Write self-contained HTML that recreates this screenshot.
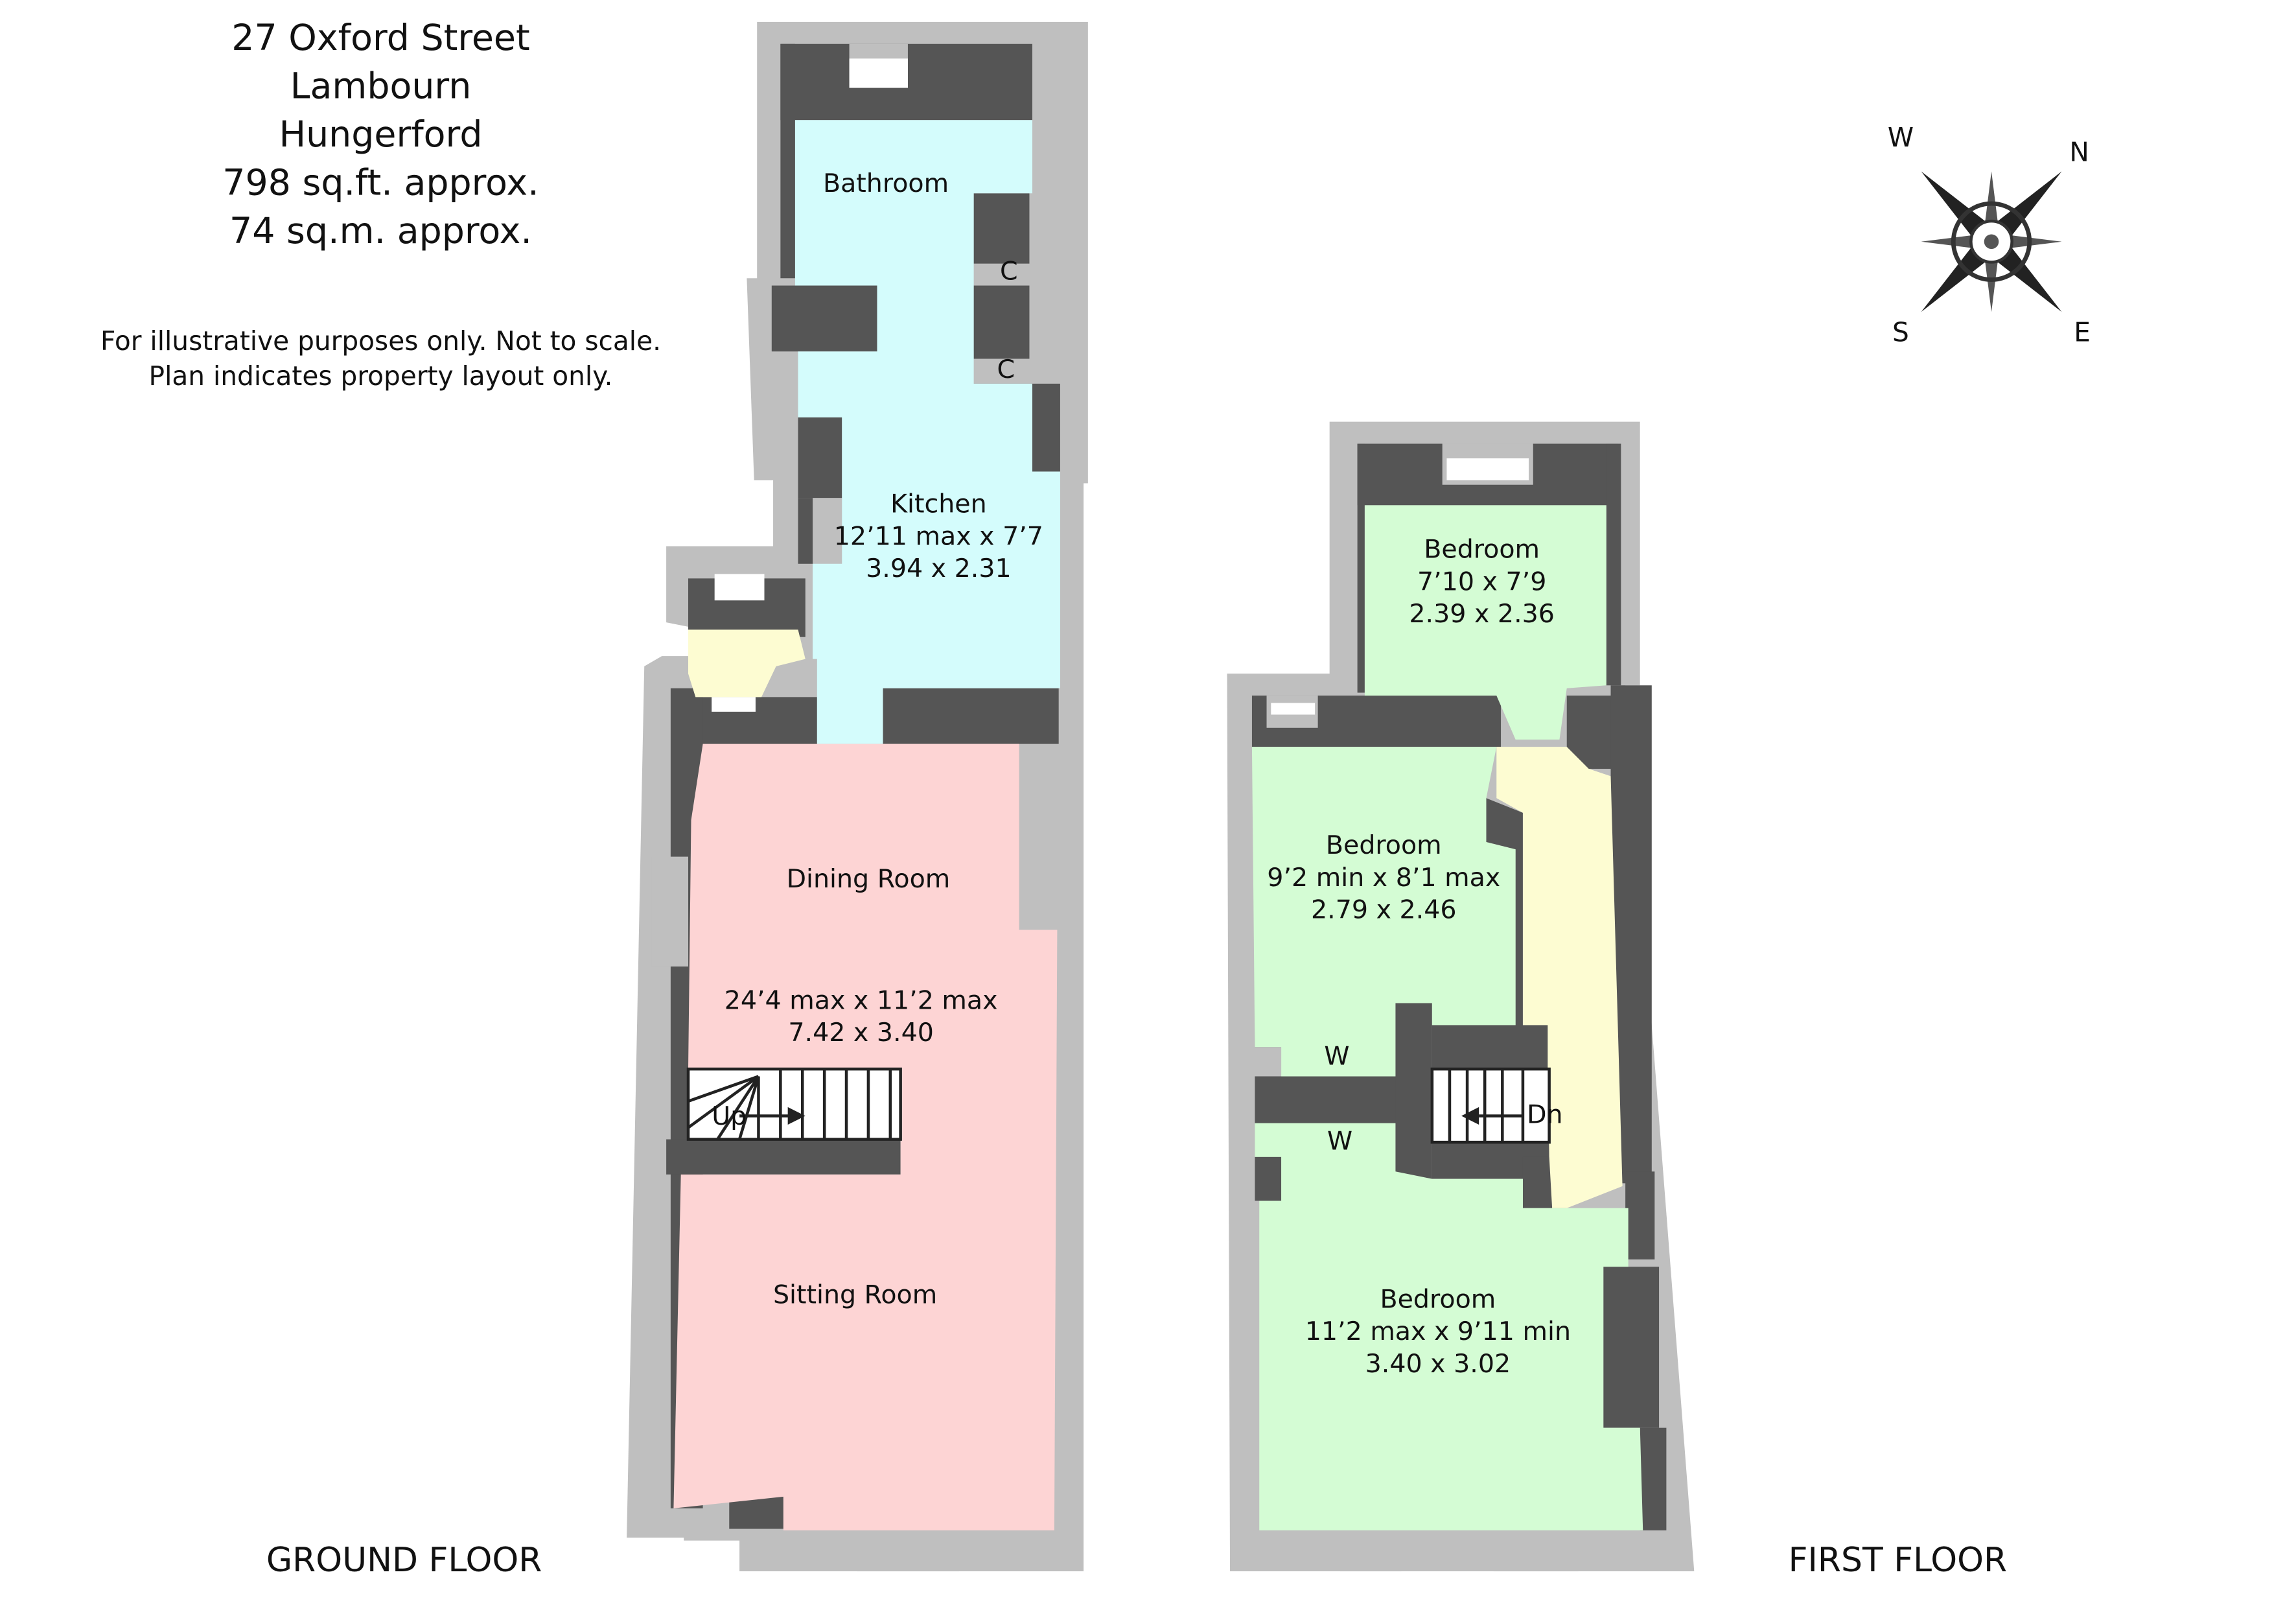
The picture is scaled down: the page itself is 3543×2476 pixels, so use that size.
<!DOCTYPE html>
<html><head><meta charset="utf-8"><style>
html,body{margin:0;padding:0;background:#fff;}
svg{display:block;}
text{font-family:"DejaVu Sans","Liberation Sans",sans-serif;fill:#111;}
</style></head><body>
<svg width="3543" height="2476" viewBox="0 0 1568 1096" preserveAspectRatio="none" xmlns="http://www.w3.org/2000/svg">
<rect width="1568" height="1096" fill="#fff"/>
<g font-size="24.5" text-anchor="middle">
<text x="260" y="34">27 Oxford Street</text>
<text x="260" y="67">Lambourn</text>
<text x="260" y="100">Hungerford</text>
<text x="260" y="133">798 sq.ft. approx.</text>
<text x="260" y="166">74 sq.m. approx.</text>
</g>
<g font-size="18" text-anchor="middle">
<text x="260" y="239">For illustrative purposes only. Not to scale.</text>
<text x="260" y="263">Plan indicates property layout only.</text>
</g>
<text x="276" y="1073" font-size="23" text-anchor="middle">GROUND FLOOR</text>
<text x="1296" y="1073" font-size="23" text-anchor="middle">FIRST FLOOR</text>

<g transform="translate(1360,165)">
<g font-size="18" text-anchor="middle">
<text x="-62" y="-65">W</text><text x="60" y="-55">N</text>
<text x="-62" y="68">S</text><text x="62" y="68">E</text>
</g>
<polygon points="-48,-48 -6,6 6,-6" fill="#222"/>
<polygon points="48,-48 -6,-6 6,6" fill="#222"/>
<polygon points="-48,48 6,6 -6,-6" fill="#222"/>
<polygon points="48,48 6,-6 -6,6" fill="#222"/>
<polygon points="0,-48 -6,0 6,0" fill="#555"/><polygon points="0,48 -6,0 6,0" fill="#555"/>
<polygon points="-48,0 0,-6 0,6" fill="#555"/><polygon points="48,0 0,-6 0,6" fill="#555"/>
<circle r="26" fill="none" stroke="#333" stroke-width="3"/>
<circle r="14" fill="#fff" stroke="#333" stroke-width="2"/>
<circle r="5" fill="#555"/>
</g>

<g fill="#bfbfbf">
<polygon points="517,15 743,15 743,330 740,330 740,1073 505,1073 505,1052 467,1052 467,1050 428,1050 440,455 452,448 470,448 470,428 455,425 455,373 528,373 528,328 515,328 510,190 517,190"/>
</g>
<g fill="#555">
<rect x="533" y="30" width="172" height="52"/>
<rect x="533" y="30" width="10" height="160"/>
<rect x="527" y="195" width="72" height="45"/>
<rect x="545" y="285" width="30" height="55"/>
<rect x="545" y="340" width="10" height="45"/>
<rect x="665" y="132" width="38" height="48"/>
<rect x="665" y="195" width="38" height="50"/>
<rect x="645" y="195" width="20" height="45"/>
<rect x="662" y="262" width="62" height="60"/>
<rect x="603" y="470" width="120" height="38"/>
<rect x="470" y="395" width="80" height="40"/>
<rect x="470" y="476" width="88" height="35"/>
<rect x="458" y="470" width="22" height="560"/>
<rect x="698" y="635" width="22" height="30"/>
<rect x="692" y="950" width="28" height="20"/>
<rect x="455" y="778" width="160" height="24"/>
<rect x="498" y="1022" width="37" height="22"/>
</g>
<g fill="#bfbfbf">
<rect x="580" y="30" width="40" height="30"/>
<rect x="696" y="533" width="25" height="102"/>
<rect x="692" y="853" width="28" height="97"/>
<rect x="445" y="585" width="25" height="75"/>
<rect x="585" y="1045" width="70" height="28"/>
</g>
<rect x="580" y="40" width="40" height="20" fill="#fff"/>
<rect x="488" y="392" width="34" height="18" fill="#fff"/>
<rect x="486" y="476" width="30" height="10" fill="#fff"/>
<rect x="870" y="478" width="30" height="10" fill="#fff"/>
<polygon points="543,82 705,82 705,132 665,132 665,262 705,262 705,322 724,322 724,470 603,470 603,508 558,508 558,450 555,450 555,385 575,385 575,285 545,285 545,240 599,240 599,195 543,195" fill="#d4fcfc"/>
<polygon points="470,430 545,430 550,450 530,455 520,476 475,476 470,460" fill="#fdfcd2"/>
<polygon points="480,508 696,508 696,635 722,635 720,1045 535,1045 535,1022 460,1030 465,802 615,802 615,730 470,730 472,560" fill="#fdd4d4"/>
<rect x="470" y="730" width="145" height="48" fill="#fff" stroke="#222" stroke-width="2"/>
<g stroke="#222" stroke-width="2">
<line x1="470" y1="770" x2="518" y2="735"/><line x1="470" y1="752" x2="518" y2="735"/>
<line x1="490" y1="778" x2="518" y2="735"/><line x1="505" y1="778" x2="518" y2="735"/>
<line x1="518" y1="735" x2="518" y2="778"/>
<line x1="533" y1="730" x2="533" y2="778"/><line x1="548" y1="730" x2="548" y2="778"/>
<line x1="563" y1="730" x2="563" y2="778"/><line x1="578" y1="730" x2="578" y2="778"/>
<line x1="593" y1="730" x2="593" y2="778"/><line x1="608" y1="730" x2="608" y2="778"/>
<line x1="505" y1="762" x2="540" y2="762"/>
</g>
<polygon points="550,762 538,756 538,768" fill="#222"/>
<g font-size="17.5" text-anchor="middle">
<text x="605" y="131">Bathroom</text>
<text x="689" y="191">C</text><text x="687" y="258">C</text>
<text x="641" y="350">Kitchen</text>
<text x="641" y="372">12’11 max x 7’7</text>
<text x="641" y="394">3.94 x 2.31</text>
<text x="593" y="606">Dining Room</text>
<text x="588" y="689">24’4 max x 11’2 max</text>
<text x="588" y="711">7.42 x 3.40</text>
<text x="498" y="768">Up</text>
<text x="584" y="890">Sitting Room</text>
</g>

<polygon points="908,288 1120,288 1120,468 1110,468 1157,1073 840,1073 838,460 908,460" fill="#bfbfbf"/>
<g fill="#555">
<rect x="927" y="303" width="178" height="42"/>
<rect x="1097" y="303" width="10" height="165"/>
<rect x="927" y="303" width="5" height="170"/>
<rect x="855" y="475" width="170" height="35"/>
<rect x="1070" y="475" width="40" height="50"/>
<rect x="1100" y="468" width="28" height="340"/>
<polygon points="1015,545 1040,555 1040,700 1057,700 1057,730 978,730 978,700 1035,700 1035,580 1015,575"/>
<rect x="857" y="735" width="115" height="32"/>
<rect x="857" y="685" width="18" height="30"/>
<rect x="857" y="790" width="18" height="30"/>
<rect x="953" y="685" width="25" height="135"/>
<rect x="978" y="780" width="80" height="25"/>
<rect x="1040" y="790" width="30" height="35"/>
<rect x="1110" y="800" width="20" height="60"/>
<rect x="1095" y="865" width="38" height="110"/>
<rect x="1120" y="975" width="18" height="70"/>
</g>
<g fill="#bfbfbf">
<rect x="985" y="303" width="62" height="28"/>
<rect x="865" y="475" width="35" height="22"/>
<rect x="915" y="1045" width="42" height="28"/>
<rect x="1020" y="1045" width="58" height="28"/>
</g>
<rect x="988" y="313" width="56" height="15" fill="#fff"/>
<rect x="868" y="480" width="30" height="8" fill="#fff"/>
<polygon points="932,345 1097,345 1097,468 1070,470 1065,505 1035,505 1022,475 932,475" fill="#d4fcd4"/>
<polygon points="855,510 1022,510 1015,545 1015,575 1035,580 1035,700 978,700 978,685 953,685 953,735 875,735 875,715 857,715" fill="#d4fcd4"/>
<polygon points="857,767 953,767 953,800 978,805 1040,805 1040,825 1070,825 1112,825 1112,865 1095,865 1095,975 1120,975 1122,1045 860,1045 860,820 875,820 875,790 857,790" fill="#d4fcd4"/>
<polygon points="1022,510 1070,510 1085,525 1100,530 1108,810 1070,825 1060,825 1058,790 1057,730 1057,700 1040,700 1040,555 1022,545" fill="#fdfcd2"/>
<rect x="978" y="730" width="80" height="50" fill="#fff" stroke="#222" stroke-width="2"/>
<g stroke="#222" stroke-width="2">
<line x1="990" y1="730" x2="990" y2="780"/><line x1="1002" y1="730" x2="1002" y2="780"/>
<line x1="1014" y1="730" x2="1014" y2="780"/><line x1="1026" y1="730" x2="1026" y2="780"/>
<line x1="1040" y1="730" x2="1040" y2="780"/>
<line x1="1010" y1="762" x2="1040" y2="762"/>
</g>
<polygon points="998,762 1010,756 1010,768" fill="#222"/>
<g font-size="17.5" text-anchor="middle">
<text x="1012" y="381">Bedroom</text>
<text x="1012" y="403">7’10 x 7’9</text>
<text x="1012" y="425">2.39 x 2.36</text>
<text x="945" y="583">Bedroom</text>
<text x="945" y="605">9’2 min x 8’1 max</text>
<text x="945" y="627">2.79 x 2.46</text>
<text x="913" y="727">W</text><text x="915" y="785">W</text>
<text x="1055" y="767">Dn</text>
<text x="982" y="893">Bedroom</text>
<text x="982" y="915">11’2 max x 9’11 min</text>
<text x="982" y="937">3.40 x 3.02</text>
</g>
</svg>
</body></html>
